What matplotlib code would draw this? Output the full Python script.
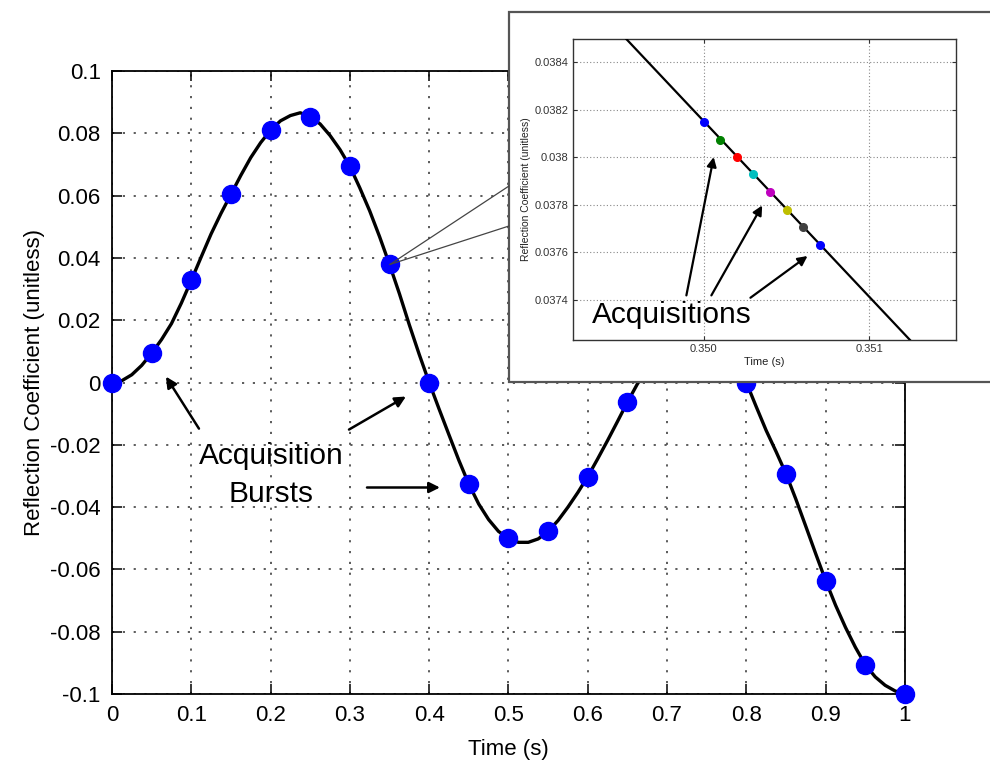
import matplotlib
matplotlib.use("Agg")
import matplotlib.pyplot as plt
from matplotlib.patches import Rectangle, ConnectionPatch

plt.rcParams['font.family'] = ['Liberation Sans', 'DejaVu Sans']

# curva principal
curve_t = [0, 0.0125, 0.025, 0.0375, 0.05, 0.0625, 0.075, 0.0875, 0.1, 0.1125,
           0.125, 0.1375, 0.15, 0.1625, 0.175, 0.1875, 0.2, 0.2125, 0.225, 0.2375,
           0.25, 0.2625, 0.275, 0.2875, 0.3, 0.3125, 0.325, 0.3375, 0.35, 0.3625,
           0.375, 0.3875, 0.4, 0.4125, 0.425, 0.4375, 0.45, 0.4625, 0.475, 0.4875,
           0.5, 0.5125, 0.525, 0.5375, 0.55, 0.5625, 0.575, 0.5875, 0.6, 0.6125,
           0.625, 0.6375, 0.65, 0.6625, 0.675, 0.7, 0.725, 0.75, 0.775, 0.8,
           0.8125, 0.825, 0.8375, 0.85, 0.8625, 0.875, 0.8875, 0.9, 0.9125, 0.925,
           0.9375, 0.95, 0.9625, 0.975, 0.9875, 1.0]
curve_r = [0, 0.0006, 0.0025, 0.0055, 0.0094, 0.0138, 0.0189, 0.0255, 0.0328, 0.0403,
           0.0477, 0.0543, 0.0604, 0.0665, 0.0722, 0.0770, 0.0810, 0.0840, 0.0857, 0.0866,
           0.0853, 0.0830, 0.0793, 0.0748, 0.0694, 0.0625, 0.0551, 0.0468, 0.0379, 0.0285,
           0.0185, 0.0090, 0.0, -0.0085, -0.0168, -0.0250, -0.0326, -0.0390, -0.0440, -0.0478,
           -0.0500, -0.0513, -0.0513, -0.0502, -0.0478, -0.0443, -0.0400, -0.0353, -0.0302, -0.0245,
           -0.0186, -0.0125, -0.0063, -0.0005, 0.0045, 0.0130, 0.0180, 0.0170, 0.0110, 0.0,
           -0.0078, -0.0154, -0.0222, -0.0293, -0.0375, -0.0462, -0.0550, -0.0636, -0.0715, -0.0786,
           -0.0850, -0.0906, -0.0945, -0.0972, -0.0990, -0.1]

# rajadas de aquisicao
burst_t = [0, 0.05, 0.1, 0.15, 0.2, 0.25, 0.3, 0.35, 0.4, 0.45, 0.5, 0.55, 0.6,
           0.65, 0.7, 0.75, 0.8, 0.85, 0.9, 0.95, 1.0]
burst_r = [0, 0.0094, 0.0328, 0.0604, 0.0810, 0.0852, 0.0694, 0.0379, 0.0,
           -0.0326, -0.0500, -0.0478, -0.0302, -0.0063, 0.0130, 0.0170, 0.0,
           -0.0293, -0.0636, -0.0906, -0.1]

x_ticks = [0, 0.1, 0.2, 0.3, 0.4, 0.5, 0.6, 0.7, 0.8, 0.9, 1.0]
x_labels = ['0', '0.1', '0.2', '0.3', '0.4', '0.5', '0.6', '0.7', '0.8', '0.9', '1']
y_ticks = [-0.1, -0.08, -0.06, -0.04, -0.02, 0, 0.02, 0.04, 0.06, 0.08, 0.1]
y_labels = ['-0.1', '-0.08', '-0.06', '-0.04', '-0.02', '0', '0.02', '0.04',
            '0.06', '0.08', '0.1']

# zoom (inset)
inset_line_t = [0.349532, 0.351246]
inset_line_r = [0.0384985, 0.03723]
acq_t = [0.3500, 0.3501, 0.3502, 0.3503, 0.3504, 0.3505, 0.3506, 0.3507]
acq_r = [0.038148, 0.038073, 0.038000, 0.037928, 0.037854, 0.037779, 0.037705, 0.037632]
acq_cores = [(0, 0, 1), (0, 0.5, 0), (1, 0, 0), (0, 0.75, 0.75), (0.75, 0, 0.75),
             (0.75, 0.75, 0), (0.25, 0.25, 0.25), (0, 0, 1)]
inset_x_ticks = [0.350, 0.351]
inset_x_labels = ['0.350', '0.351']
inset_y_ticks = [0.0374, 0.0376, 0.0378, 0.0380, 0.0382, 0.0384]
inset_y_labels = ['0.0374', '0.0376', '0.0378', '0.038', '0.0382', '0.0384']

fig = plt.figure(figsize=(9.9, 7.62), dpi=100)
ax = fig.add_axes([0.1131, 0.0892, 0.801, 0.8176])

ax.plot(curve_t, curve_r, color='black', lw=2.4, zorder=3,
        solid_joinstyle='round')
ax.plot(burst_t, burst_r, ls='none', marker='o', ms=13, color='blue',
        markeredgecolor='blue', zorder=4, clip_on=False)

ax.set_xlim(0, 1)
ax.set_ylim(-0.1, 0.1)
ax.set_xticks(x_ticks)
ax.set_xticklabels(x_labels)
ax.set_yticks(y_ticks)
ax.set_yticklabels(y_labels)
ax.tick_params(direction='in', length=7, width=1.1, labelsize=16, pad=8,
               top=True, right=True)
for s in ax.spines.values():
    s.set_linewidth(1.3)
ax.grid(True, color='#404040', ls=(0, (1.3, 5.2)), lw=1.2)
ax.set_xlabel("Time (s)", fontsize=16, labelpad=9)
ax.set_ylabel("Reflection Coefficient (unitless)", fontsize=16, labelpad=4)

# anotacoes do grafico principal
ax.text(0.2005, -0.0263, "Acquisition", fontsize=21.5, ha='center', va='baseline')
ax.text(0.2005, -0.0382, "Bursts", fontsize=21.5, ha='center', va='baseline')
arr = dict(arrowstyle='-|>', color='black', lw=1.8, mutation_scale=16,
           shrinkA=0, shrinkB=0)
ax.annotate("", xy=(0.0681, 0.0019), xytext=(0.1097, -0.0148), arrowprops=arr)
ax.annotate("", xy=(0.3707, -0.0045), xytext=(0.2989, -0.0151), arrowprops=arr)
ax.annotate("", xy=(0.4136, -0.0337), xytext=(0.3216, -0.0337), arrowprops=arr)

# caixa branca do zoom
box = Rectangle((509 / 990, 1 - 382 / 762), 500 / 990, 370 / 762,
                transform=fig.transFigure, facecolor='white',
                edgecolor='#555555', lw=1.6, zorder=1)
fig.add_artist(box)

for yb in [1 - 186 / 762, 1 - 226 / 762]:
    con = ConnectionPatch(xyA=(0.3505, 0.0379), coordsA=ax.transData,
                          xyB=(509 / 990, yb), coordsB=fig.transFigure,
                          color='#444444', lw=0.9, zorder=1.5)
    fig.add_artist(con)

axi = fig.add_axes([573 / 990, 1 - 340 / 762, 383 / 990, 301 / 762], zorder=2)
axi.plot(inset_line_t, inset_line_r, color='black', lw=1.6, zorder=3)
for t, r, c in zip(acq_t, acq_r, acq_cores):
    axi.plot(t, r, ls='none', marker='o', ms=5.5, color=c, zorder=4)
axi.set_xlim(0.349210, 0.351524)
axi.set_ylim(0.037230, 0.0384985)
axi.set_xticks(inset_x_ticks)
axi.set_xticklabels(inset_x_labels)
axi.set_yticks(inset_y_ticks)
axi.set_yticklabels(inset_y_labels)
axi.tick_params(direction='in', length=3, width=0.8, labelsize=8, pad=3,
                top=True, right=True, colors='#333333')
for s in axi.spines.values():
    s.set_color('#333333')
    s.set_linewidth(1.0)
axi.grid(True, color='#888888', ls=(0, (1, 2)), lw=0.8)
axi.set_xlabel("Time (s)", fontsize=8, color='#222222', labelpad=2)
axi.set_ylabel("Reflection Coefficient (unitless)", fontsize=7.5,
               color='#222222', labelpad=3)

axi.text(0.349810, 0.03730, "Acquisitions", fontsize=21.5, ha='center',
         va='baseline')
arr2 = dict(arrowstyle='-|>', color='black', lw=1.6, mutation_scale=14,
            shrinkA=0, shrinkB=0)
axi.annotate("", xy=(0.350060, 0.038001), xytext=(0.349895, 0.037418), arrowprops=arr2)
axi.annotate("", xy=(0.350353, 0.037797), xytext=(0.350046, 0.037418), arrowprops=arr2)
axi.annotate("", xy=(0.350627, 0.037584), xytext=(0.350282, 0.037408), arrowprops=arr2)

fig.savefig("out.png", dpi=100)
